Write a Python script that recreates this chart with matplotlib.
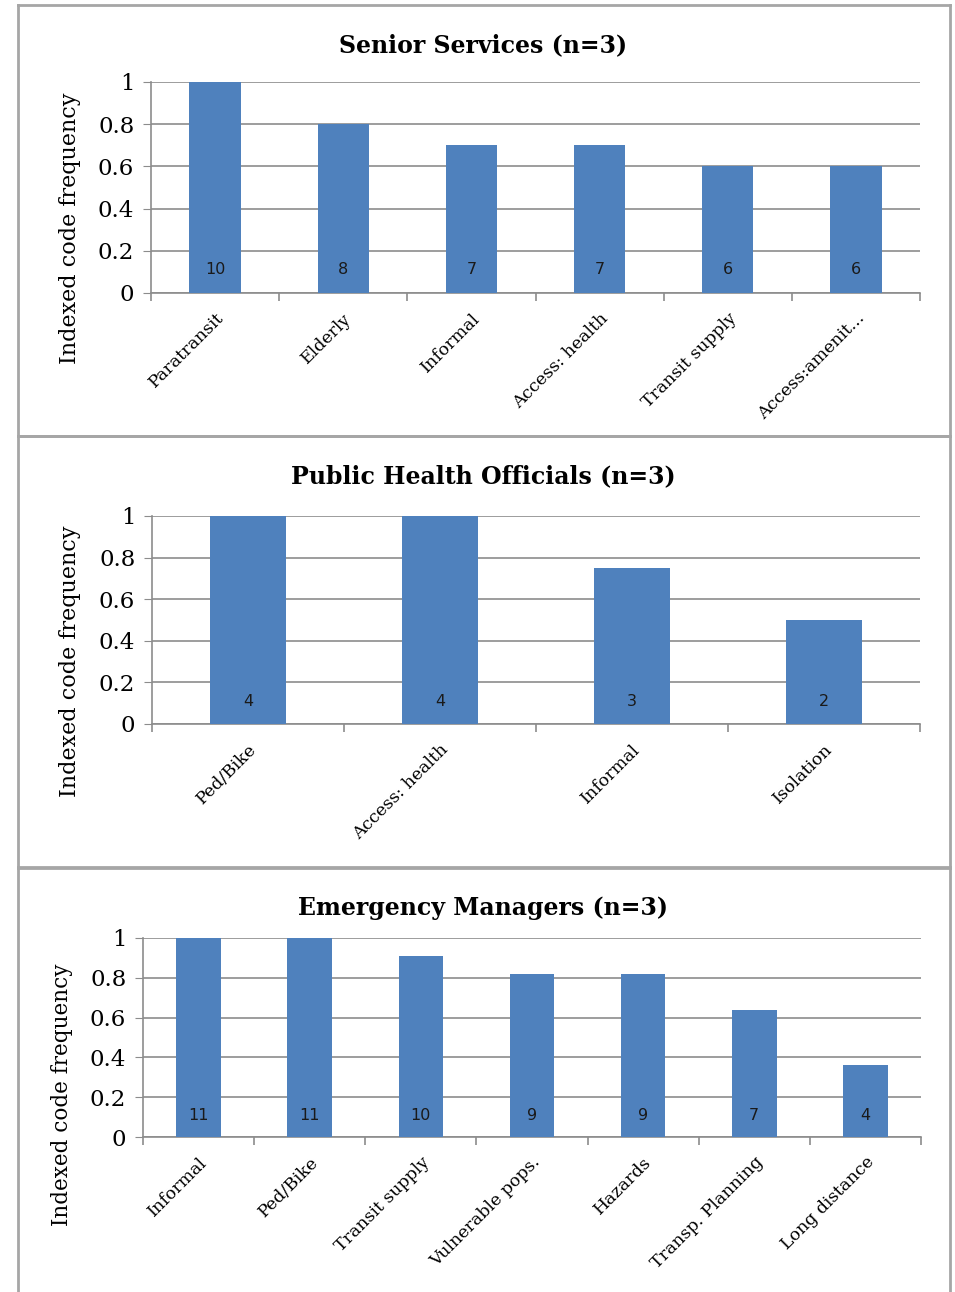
import matplotlib
matplotlib.use("Agg")
from matplotlib import pyplot as plt
from matplotlib.lines import Line2D

# Senior Services
senior_labels = ["Paratransit", "Elderly", "Informal", "Access: health",
                 "Transit supply", "Access:amenit..."]
senior_values = [1.0, 0.8, 0.7, 0.7, 0.6, 0.6]
senior_counts = [10, 8, 7, 7, 6, 6]

# Public Health Officials
health_labels = ["Ped/Bike", "Access: health", "Informal", "Isolation"]
health_values = [1.0, 1.0, 0.75, 0.5]
health_counts = [4, 4, 3, 2]

# Emergency Managers
emerg_labels = ["Informal", "Ped/Bike", "Transit supply", "Vulnerable pops.",
                "Hazards", "Transp. Planning", "Long distance"]
emerg_values = [1.0, 1.0, 0.91, 0.82, 0.82, 0.64, 0.36]
emerg_counts = [11, 11, 10, 9, 9, 7, 4]

W, H = 955, 1292
BAR = "#4F81BD"
GRID = "#8C8C8C"
SERIF = "DejaVu Serif"


def fx(px):
    return px / W


def fy(py):
    return 1 - py / H


def draw_panel(fig, box, labels, values, counts, title, title_y, ylab_x,
               ylab_y, ylab_size=16):
    '''
    Draws one bar panel; box is (left, top, right, bottom) in pixels.
    '''
    left, top, right, bottom = box
    ax = fig.add_axes([fx(left), fy(bottom), fx(right) - fx(left),
                       fy(top) - fy(bottom)])
    x = list(range(len(labels)))
    ax.bar(x, values, width=0.4, color=BAR, zorder=3)
    for xi, c in zip(x, counts):
        ax.text(xi, 0.11, str(c), ha="center", va="center", fontsize=11.5,
                family="DejaVu Sans", color="#1a1a1a", zorder=4)

    ax.set_xlim(-0.5, len(labels) - 0.5)
    ax.set_ylim(0, 1)
    ax.set_yticks([0, 0.2, 0.4, 0.6, 0.8, 1])
    ax.set_yticklabels(["0", "0.2", "0.4", "0.6", "0.8", "1"],
                       family=SERIF, fontsize=16.5)
    ax.yaxis.grid(True, color=GRID, linewidth=1.2, zorder=0)
    ax.tick_params(axis="y", length=6, color=GRID, pad=6)

    ax.set_xticks(x)
    ax.set_xticklabels(labels, rotation=45, ha="right",
                       rotation_mode="anchor", family=SERIF, fontsize=12.5)
    ax.tick_params(axis="x", length=0, pad=12)
    ax.set_xticks([i - 0.5 for i in range(len(labels) + 1)], minor=True)
    ax.tick_params(axis="x", which="minor", length=6, color=GRID, width=1.2)

    for s in ["top", "right"]:
        ax.spines[s].set_visible(False)
    for s in ["left", "bottom"]:
        ax.spines[s].set_color(GRID)
        ax.spines[s].set_linewidth(1.2)

    fig.text(fx(483), fy(title_y), title, ha="center", va="center",
             family=SERIF, fontsize=17, fontweight="bold")
    fig.text(fx(ylab_x), fy(ylab_y), "Indexed code frequency", rotation=90,
             ha="center", va="center", family=SERIF, fontsize=ylab_size)
    return ax


def main():
    fig = plt.figure(figsize=(W / 100, H / 100), dpi=100)

    # panel borders
    edge = "#A6A6A6"
    for top, bottom in [(5, 436), (436, 867), (868, 1300)]:
        for xs, ys in [([18, 950], [top, top]), ([18, 18], [top, bottom]),
                       ([950, 950], [top, bottom]),
                       ([18, 950], [bottom, bottom])]:
            fig.add_artist(Line2D([fx(v) for v in xs], [fy(v) for v in ys],
                                  color=edge, linewidth=2))

    draw_panel(fig, (151, 82, 920, 293), senior_labels, senior_values,
               senior_counts, "Senior Services (n=3)", 45, 70, 228)
    draw_panel(fig, (152, 516, 920, 724), health_labels, health_values,
               health_counts, "Public Health Officials (n=3)", 476, 70, 661)
    draw_panel(fig, (143, 938, 921, 1137), emerg_labels, emerg_values,
               emerg_counts, "Emergency Managers (n=3)", 908, 62, 1095,
               ylab_size=15.5)

    fig.savefig("out.png", dpi=100)


if __name__ == "__main__":
    main()
